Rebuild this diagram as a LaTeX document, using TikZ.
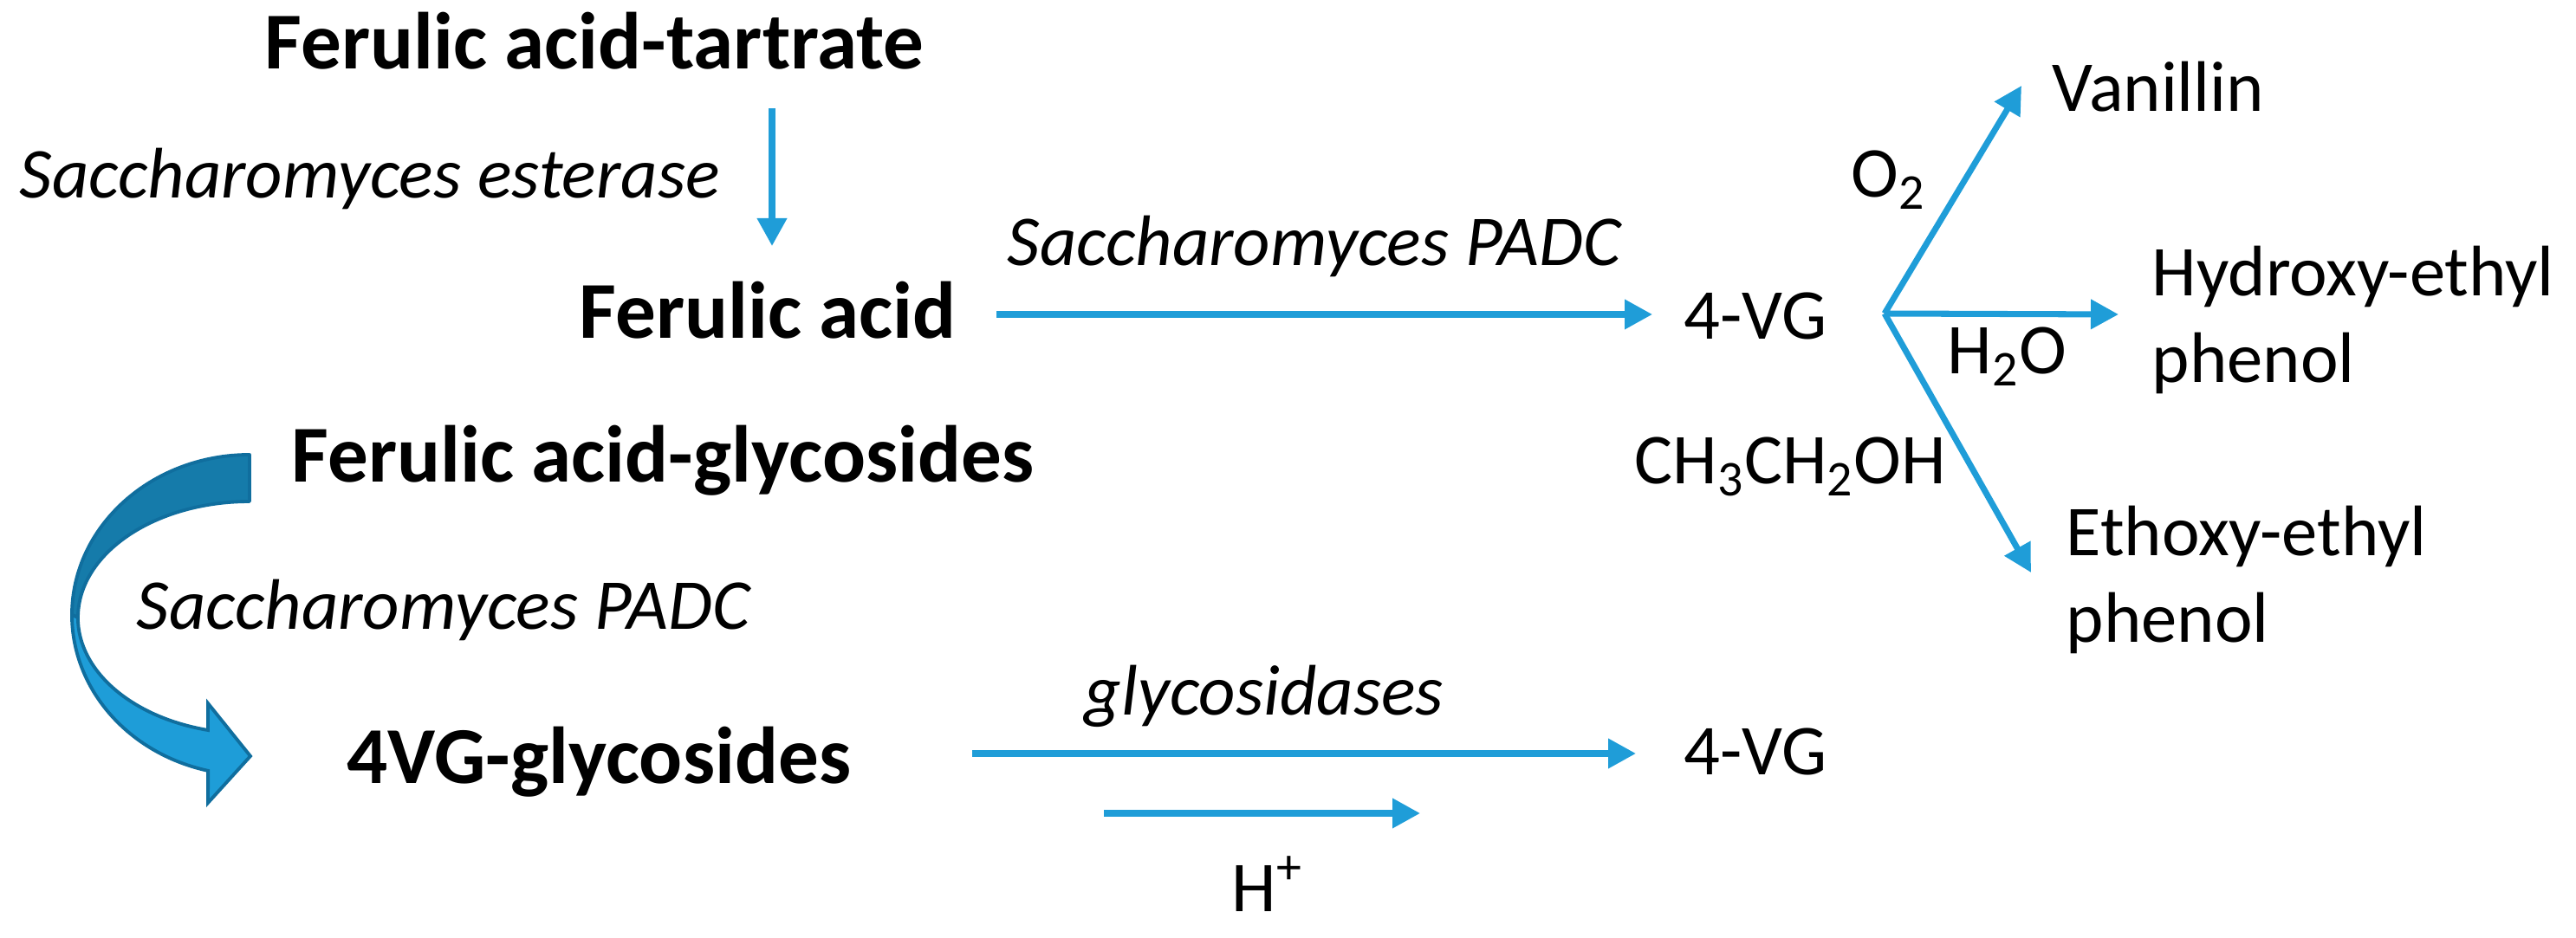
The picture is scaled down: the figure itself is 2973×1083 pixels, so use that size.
\documentclass[tikz,border=0pt]{standalone}
\usepackage{fontspec}
\setmainfont{Carlito}
\usetikzlibrary{arrows.meta, positioning}
\definecolor{flowblue}{RGB}{31,157,216}
\definecolor{bandlight}{RGB}{30,157,216}
\definecolor{banddark}{RGB}{21,123,170}
\definecolor{bandedge}{RGB}{16,110,158}

\begin{document}
\begin{tikzpicture}[x=0.01cm, y=-0.01cm,
  flow/.style={flowblue, line width=2pt, -{Triangle[length=0.32cm, width=0.33cm]}},
  cpd/.style={inner sep=0pt, anchor=base west, font=\fontsize{26.5}{32}\selectfont\bfseries},
  enz/.style={inner sep=0pt, anchor=base west, font=\fontsize{23.5}{28.7}\selectfont\itshape},
  chem/.style={inner sep=0pt, anchor=base west, align=left, font=\fontsize{23.5}{28.7}\selectfont}]
\useasboundingbox (0,0) rectangle (2973,1083);

% upper route
\node[cpd] (tartrate) at (305,80) {Ferulic acid-tartrate};
\node[enz] (esterase) at (22,229) {Saccharomyces esterase};
\node[cpd] (ferulic) at (668,391) {Ferulic acid};
\node[enz] (padc1) at (1162,307) {Saccharomyces PADC};
\node[chem] (vg1) at (1943,392) {4-VG};

% products of 4-VG (base = last line)
\node[chem] (vanillin) at (2368,129) {Vanillin};
\node[chem] (o2) at (2136,228) {O\textsubscript{2}};
\node[chem] (hydroxy) at (2483,442) {Hydroxy-ethyl\\phenol};
\node[chem] (h2o) at (2247,432) {H\textsubscript{2}O};
\node[chem] (ethanol) at (1886,559) {CH\textsubscript{3}CH\textsubscript{2}OH};
\node[chem] (ethoxy) at (2384,742) {Ethoxy-ethyl\\phenol};

% lower route
\node[cpd] (glyc) at (336,557) {Ferulic acid-glycosides};
\node[enz] (padc2) at (157,727) {Saccharomyces PADC};
\node[cpd] (vgglyc) at (400,904) {4VG-glycosides};
\node[enz] (glycosidases) at (1251,826) {glycosidases};
\node[chem] (vg2) at (1943,894) {4-VG};
\node[chem] (hplus) at (1421,1052) {H\textsuperscript{+}};

% arrow ends
\coordinate (est-a) at (891,125);
\coordinate (est-b) at (891,284);
\coordinate (fa-out) at (1150,363);
\coordinate (vg1-in) at (1907,363);
\coordinate (fork) at (2175,362);
\coordinate (van-in) at (2333,99);
\coordinate (hyd-in) at (2445,363);
\coordinate (eth-in) at (2344,661);
\coordinate (gl-out) at (1122,870);
\coordinate (vg2-in) at (1888,870);
\coordinate (h-a) at (1274,939);
\coordinate (h-b) at (1639,939);

\draw[flow] (est-a) -- (est-b);
\draw[flow] (fa-out) -- (vg1-in);
\draw[flow] (fork) -- (van-in);
\draw[flow] (fork) -- (hyd-in);
\draw[flow] (fork) -- (eth-in);
\draw[flow] (gl-out) -- (vg2-in);
\draw[flow] (h-a) -- (h-b);

% curved block arrow
\filldraw[fill=banddark, draw=bandedge, line width=1.1pt, line join=round]
  (288,525) arc[start angle=270, end angle=180, x radius=205, y radius=185]
  -- (90,713) arc[start angle=180, end angle=270, x radius=198, y radius=134] -- cycle;
\filldraw[fill=bandlight, draw=bandedge, line width=1.1pt, line join=miter]
  (83,710) arc[start angle=180, end angle=103.5, x radius=205, y radius=185]
  -- (240,927) -- (289,873) -- (240,812) -- (240,843)
  arc[start angle=104, end angle=180, x radius=198, y radius=134] -- cycle;
\end{tikzpicture}
\end{document}
